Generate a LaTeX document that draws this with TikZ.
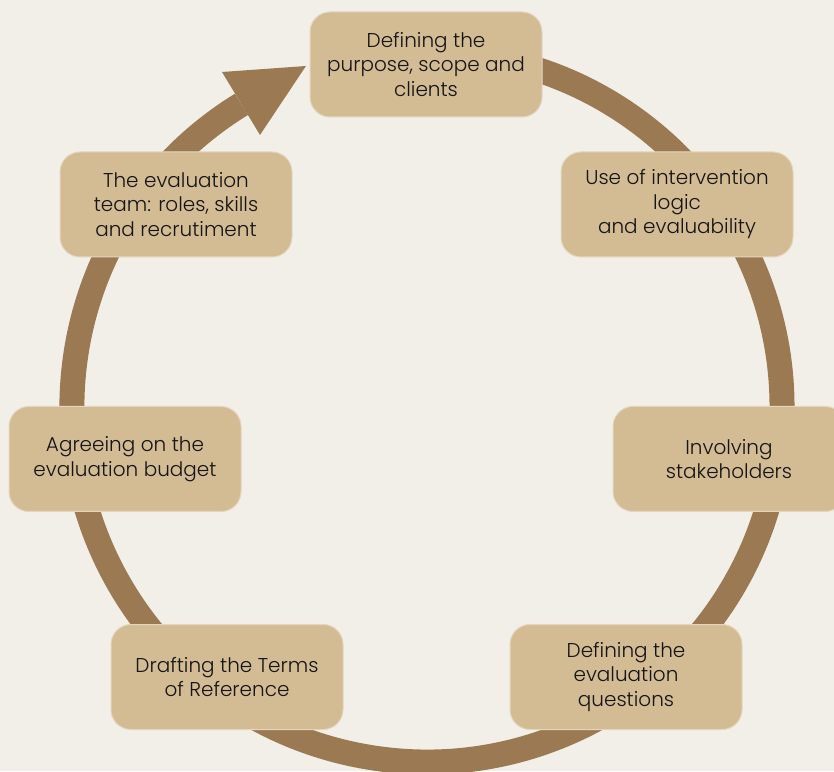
\documentclass[tikz,border=0pt]{standalone}
\usepackage{fontspec}
\setmainfont{Poppins}[UprightFont=* Light]
\definecolor{bgc}{HTML}{F2EFE9}
\definecolor{boxc}{HTML}{D3BB94}
\definecolor{boxline}{HTML}{E3D6BC}
\definecolor{ringc}{HTML}{9B7A53}
\definecolor{txtc}{HTML}{141414}
\begin{document}
\begin{tikzpicture}[x=1pt,y=1pt,
  stage/.style={rectangle, rounded corners=20pt, fill=boxc, draw=boxline, line width=1pt,
    minimum width=232pt, minimum height=105pt, align=center, text=txtc,
    font=\fontsize{20}{24.5}\selectfont, inner sep=0pt}]
\fill[bgc] (0,0) rectangle (834,771);
\useasboundingbox (0,0) rectangle (834,771);
\coordinate (c) at (427,364);
\coordinate (ringstart) at (488.6,713.6);
\coordinate (tip) at (306,705);
\coordinate (wa) at (222,699);
\coordinate (wb) at (260,636);
% ring
\draw[ringc, line width=25pt] (ringstart) arc[start angle=80, end angle=-238.5, radius=355];
\fill[ringc] (wa) -- (tip) -- (wb) -- cycle;
% stages
\node[stage] (s1) at (426,706.5) {Defining the\\purpose, scope and\\clients};
\node[stage] (s2) at (677,566.5) {Use of intervention\\logic\\and evaluability};
\node[stage] (s3) at (729,312) {Involving\\stakeholders};
\node[stage] (s4) at (626,94) {Defining the\\evaluation\\questions};
\node[stage] (s5) at (227,94) {Drafting the Terms\\of Reference};
\node[stage] (s6) at (125,312) {Agreeing on the\\evaluation budget};
\node[stage] (s7) at (176,566.5) {The evaluation\\team: roles, skills\\and recrutiment};
\end{tikzpicture}
\end{document}
